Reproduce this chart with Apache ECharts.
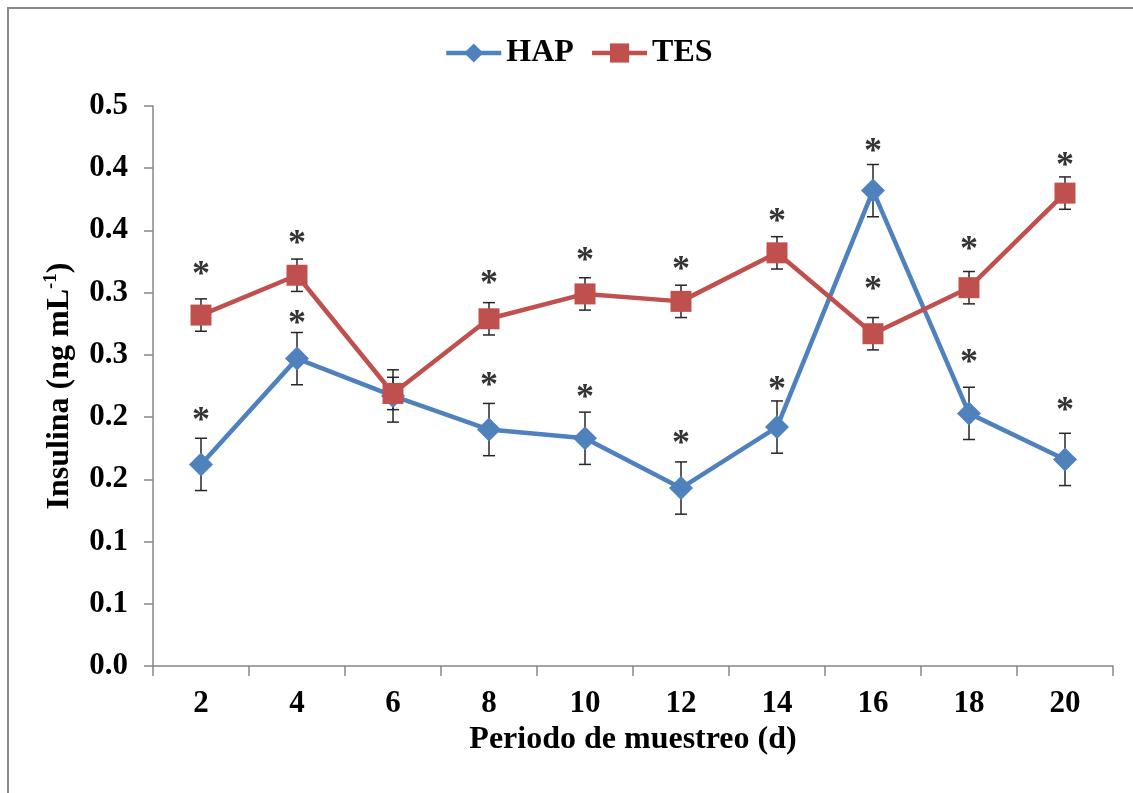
<!DOCTYPE html>
<html>
<head>
<meta charset="utf-8">
<script src="https://cdn.jsdelivr.net/npm/echarts@6/dist/echarts.min.js"></script>
<style>
html,body{margin:0;padding:0;background:#fff;}
#chart{width:1133px;height:793px;}
</style>
</head>
<body>
<div id="chart"></div>
<script>
const categories = ['2','4','6','8','10','12','14','16','18','20'];
const hapValues = [0.162, 0.247, 0.217, 0.190, 0.183, 0.143, 0.192, 0.382, 0.203, 0.166];
const hapErrors = [0.021, 0.021, 0.021, 0.021, 0.021, 0.021, 0.021, 0.021, 0.021, 0.021];
const tesValues = [0.282, 0.314, 0.219, 0.279, 0.299, 0.293, 0.332, 0.267, 0.304, 0.380];
const tesErrors = [0.013, 0.013, 0.013, 0.013, 0.013, 0.013, 0.013, 0.013, 0.013, 0.013];
// asterisk (significance mark) heights, null = no mark
const hapStars = [0.203, 0.281, null, 0.231, 0.221, 0.184, 0.228, 0.419, 0.249, 0.211];
const tesStars = [0.320, 0.345, null, 0.313, 0.331, 0.324, 0.363, 0.308, 0.340, 0.408];
const yTickLabels = ['0.0','0.1','0.1','0.2','0.2','0.3','0.3','0.4','0.4','0.5'];

const FONT = '"Liberation Serif", "Times New Roman", serif';
const AXIS_COLOR = '#868686';
const BLUE = '#4F81BD';
const RED = '#C0504D';

function errData(vals, errs) {
  return vals.map((v, i) => [i, v - errs[i], v + errs[i]]);
}
function errorSeries(vals, errs) {
  return {
    type: 'custom',
    silent: true,
    z: 1,
    data: errData(vals, errs),
    renderItem: function (params, api) {
      const x = api.value(0);
      const lo = api.coord([x, api.value(1)]);
      const hi = api.coord([x, api.value(2)]);
      const hw = 6;
      const style = { stroke: '#262626', lineWidth: 1.5 };
      return {
        type: 'group',
        children: [
          { type: 'line', shape: { x1: lo[0], y1: lo[1], x2: hi[0], y2: hi[1] }, style: style },
          { type: 'line', shape: { x1: lo[0] - hw, y1: lo[1], x2: lo[0] + hw, y2: lo[1] }, style: style },
          { type: 'line', shape: { x1: hi[0] - hw, y1: hi[1], x2: hi[0] + hw, y2: hi[1] }, style: style }
        ]
      };
    }
  };
}
function starSeries(stars) {
  return {
    type: 'scatter',
    silent: true,
    symbolSize: 1,
    itemStyle: { color: 'rgba(0,0,0,0)' },
    z: 5,
    data: stars.map((v, i) => v == null ? [i, null] : [i, v]),
    label: {
      show: true,
      position: 'inside',
      formatter: '*',
      fontFamily: FONT,
      fontSize: 36,
      fontWeight: 'bold',
      color: '#000',
      offset: [0, 8]
    }
  };
}

const chart = echarts.init(document.getElementById('chart'), null, { renderer: 'canvas' });
chart.setOption({
  backgroundColor: '#fff',
  animation: false,
  graphic: [{
    type: 'rect',
    shape: { x: 8, y: 8, width: 1200, height: 900 },
    style: { fill: 'none', stroke: '#8a8a8a', lineWidth: 2 },
    silent: true
  }],
  legend: {
    data: ['HAP', 'TES'],
    top: 32,
    left: 439,
    itemWidth: 55,
    itemHeight: 24,
    itemGap: 16,
    lineStyle: { width: 4.5 },
    textStyle: { fontFamily: FONT, fontSize: 32, fontWeight: 'bold', color: '#000' }
  },
  grid: { left: 153, right: 20, top: 106, bottom: 127 },
  xAxis: {
    type: 'category',
    data: categories,
    boundaryGap: true,
    axisLine: { lineStyle: { color: AXIS_COLOR, width: 1.5 } },
    axisTick: { show: true, length: 10, alignWithLabel: false, lineStyle: { color: AXIS_COLOR, width: 1.5 } },
    axisLabel: { fontFamily: FONT, fontSize: 31, fontWeight: 'bold', color: '#000', margin: 22 },
    name: 'Periodo de muestreo (d)',
    nameLocation: 'middle',
    nameGap: 57,
    nameTextStyle: { fontFamily: FONT, fontSize: 32, fontWeight: 'bold', color: '#000' }
  },
  yAxis: {
    type: 'value',
    min: 0,
    max: 0.45,
    interval: 0.05,
    splitLine: { show: false },
    axisLine: { show: true, lineStyle: { color: AXIS_COLOR, width: 1.5 } },
    axisTick: { show: true, length: 9, lineStyle: { color: AXIS_COLOR, width: 1.5 } },
    axisLabel: {
      fontFamily: FONT, fontSize: 31, fontWeight: 'bold', color: '#000', margin: 25,
      formatter: function (v) { return yTickLabels[Math.round(v / 0.05)]; }
    },
    name: 'Insulina (ng mL{sup|-1})',
    nameLocation: 'middle',
    nameGap: 76,
    nameTextStyle: {
      fontFamily: FONT, fontSize: 32, fontWeight: 'bold', color: '#000',
      rich: {
        sup: { fontFamily: FONT, fontSize: 19, fontWeight: 'bold', color: '#000', verticalAlign: 'top', padding: [0, 0, 16, 0] }
      }
    }
  },
  series: [
    errorSeries(hapValues, hapErrors),
    errorSeries(tesValues, tesErrors),
    {
      name: 'HAP',
      type: 'line',
      data: hapValues,
      z: 3,
      symbol: 'diamond',
      symbolSize: 24,
      lineStyle: { color: BLUE, width: 4.5 },
      itemStyle: { color: BLUE }
    },
    {
      name: 'TES',
      type: 'line',
      data: tesValues,
      z: 3,
      symbol: 'rect',
      symbolSize: 21,
      lineStyle: { color: RED, width: 4.5 },
      itemStyle: { color: RED }
    },
    starSeries(hapStars),
    starSeries(tesStars)
  ]
});
</script>
</body>
</html>
